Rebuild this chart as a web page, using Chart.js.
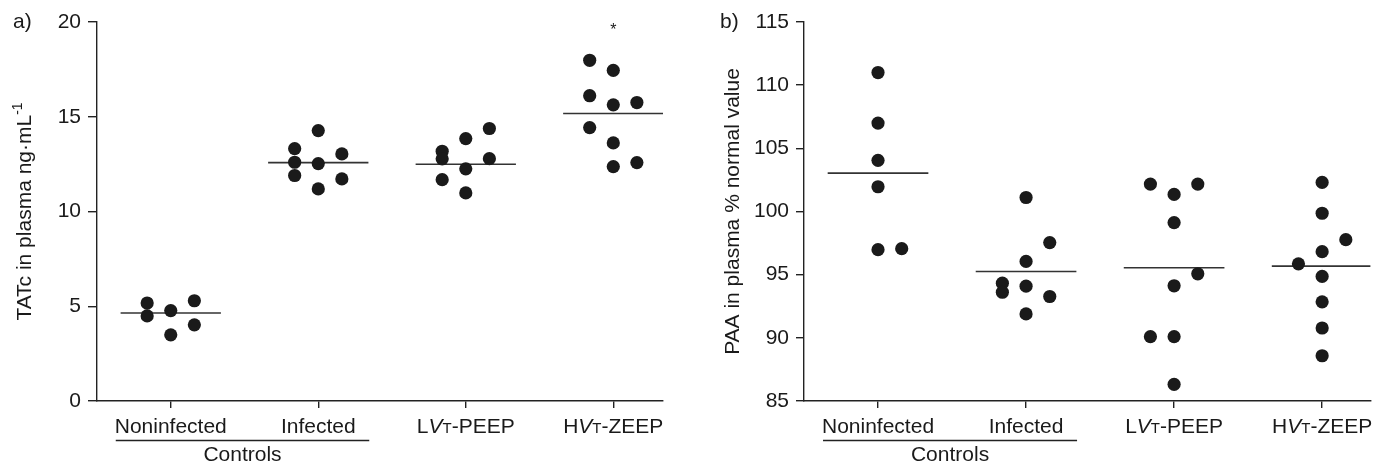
<!DOCTYPE html>
<html><head><meta charset="utf-8">
<script src="https://cdn.jsdelivr.net/npm/chart.js@4.4.1/dist/chart.umd.min.js"></script>
<style>
html,body{margin:0;padding:0;background:#fff;width:1377px;height:466px;overflow:hidden}
#wa{position:absolute;left:0;top:0;width:680px;height:466px}
#wb{position:absolute;left:687px;top:0;width:690px;height:466px}
</style></head><body>
<div id="wa"><canvas id="ca"></canvas></div>
<div id="wb"><canvas id="cb"></canvas></div>
<script>
// ---------- data ----------
const categories = ['Noninfected', 'Infected', 'LVT-PEEP', 'HVT-ZEEP'];
const groupLabel = 'Controls';
const tatcTicks = [0, 5, 10, 15, 20];
const paaTicks = [85, 90, 95, 100, 105, 110, 115];

// dot columns inside each group: -1 left, 0 centre, 1 right
const tatcNoninfected = [5.17, 4.49, 4.77, 3.49, 5.29, 4.02];
const tatcNoninfectedCol = [-1, -1, 0, 0, 1, 1];
const tatcInfected = [13.32, 12.60, 11.90, 14.27, 12.53, 11.19, 13.04, 11.72];
const tatcInfectedCol = [-1, -1, -1, 0, 0, 0, 1, 1];
const tatcLvt = [13.18, 12.78, 11.68, 13.85, 12.25, 10.98, 14.38, 12.79];
const tatcLvtCol = [-1, -1, -1, 0, 0, 0, 1, 1];
const tatcHvt = [17.98, 16.11, 14.43, 17.45, 15.63, 13.62, 12.37, 15.75, 12.58];
const tatcHvtCol = [-1, -1, -1, 0, 0, 0, 0, 1, 1];
const tatcMeans = [4.64, 12.58, 12.49, 15.17];
const tatcSignif = ['', '', '', '*'];
const tatcSignifValue = 19.7;

const paaNoninfected = [111.0, 107.0, 104.05, 101.96, 96.98, 97.06];
const paaNoninfectedCol = [0, 0, 0, 0, 0, 1];
const paaInfected = [94.33, 93.61, 101.11, 96.05, 94.09, 91.89, 97.54, 93.27];
const paaInfectedCol = [-1, -1, 0, 0, 0, 0, 1, 1];
const paaLvt = [102.17, 90.09, 101.35, 99.12, 94.12, 90.09, 86.32, 102.17, 95.07];
const paaLvtCol = [-1, -1, 0, 0, 0, 0, 0, 1, 1];
const paaHvt = [95.86, 102.30, 99.86, 96.82, 94.86, 92.85, 90.78, 88.58, 97.77];
const paaHvtCol = [-1, 0, 0, 0, 0, 0, 0, 0, 1];
const paaMeans = [103.04, 95.25, 95.55, 95.68];

// ---------- styling ----------
const FONT = '"Liberation Sans", Arial, Helvetica, sans-serif';
const FS = 21;
const INK = '#1a1a1a';
const AXIS = '#222';
const COL_STEP = 0.16;
const MEAN_HALF = 0.34;

function dots(values, cols, idx) {
  return values.map((v, k) => ({ x: idx + cols[k] * COL_STEP, y: v }));
}
function meanLine(m, idx) {
  return [{ x: idx - MEAN_HALF, y: m }, { x: idx + MEAN_HALF, y: m }];
}

function splitLabel(lbl) {
  const m = lbl.match(/^([A-Z])VT(-.+)$/);
  if (!m) return [{ t: lbl }];
  return [{ t: m[1] }, { t: 'V', italic: true }, { t: 'T', small: true }, { t: m[2] }];
}
function partFont(p) {
  return (p.italic ? 'italic ' : '') + (p.small ? 15 : FS) + 'px ' + FONT;
}
function drawParts(ctx, parts, cx, cy) {
  let w = 0;
  parts.forEach(p => { ctx.font = partFont(p); p.w = ctx.measureText(p.t).width; w += p.w; });
  let x = cx - w / 2;
  ctx.textAlign = 'left';
  ctx.textBaseline = 'alphabetic';
  parts.forEach(p => {
    ctx.font = partFont(p);
    ctx.fillText(p.t, x, cy + 7.5);
    x += p.w;
  });
}

const panelPlugin = {
  id: 'panel',
  afterDraw(chart, args, o) {
    const ctx = chart.ctx;
    const xs = chart.scales.x, ys = chart.scales.y;
    ctx.save();
    ctx.fillStyle = INK;
    // panel letter
    ctx.font = FS + 'px ' + FONT;
    ctx.textAlign = 'left';
    ctx.textBaseline = 'middle';
    ctx.fillText(o.letter, o.letterX, 22);
    // y title (rotated, with optional superscript)
    ctx.save();
    ctx.translate(o.titleX, (chart.chartArea.top + chart.chartArea.bottom) / 2);
    ctx.rotate(-Math.PI / 2);
    let w = 0;
    o.title.forEach(p => { ctx.font = (p.sup ? 14 : FS) + 'px ' + FONT; p.w = ctx.measureText(p.t).width; w += p.w; });
    let x = -w / 2;
    ctx.textAlign = 'left';
    ctx.textBaseline = 'alphabetic';
    o.title.forEach(p => {
      ctx.font = (p.sup ? 14 : FS) + 'px ' + FONT;
      ctx.fillText(p.t, x, p.sup ? -1 : 7.5);
      x += p.w;
    });
    ctx.restore();
    // category labels
    categories.forEach((c, i) => {
      drawParts(ctx, splitLabel(c), xs.getPixelForValue(i), 425);
    });
    // Controls bracket
    const x0 = xs.getPixelForValue(0) - 55, x1 = xs.getPixelForValue(1) + 51;
    ctx.strokeStyle = AXIS;
    ctx.lineWidth = 1.3;
    ctx.beginPath();
    ctx.moveTo(x0, 440.5); ctx.lineTo(x1, 440.5);
    ctx.stroke();
    ctx.font = FS + 'px ' + FONT;
    ctx.textAlign = 'center';
    ctx.textBaseline = 'middle';
    ctx.fillText(groupLabel, (x0 + x1) / 2, 455);
    // significance markers
    if (o.signif) {
      ctx.font = '16px ' + FONT;
      o.signif.forEach((s, i) => {
        if (s) ctx.fillText(s, xs.getPixelForValue(i), ys.getPixelForValue(o.signifValue) + 3);
      });
    }
    ctx.restore();
  }
};

function buildChart(id, cfg) {
  const datasets = [];
  cfg.groups.forEach((g, i) => {
    datasets.push({
      type: 'scatter', data: dots(g[0], g[1], i),
      pointRadius: 6.6, pointHoverRadius: 6.6, pointBackgroundColor: INK,
      pointBorderWidth: 0, showLine: false
    });
  });
  cfg.means.forEach((m, i) => {
    datasets.push({
      type: 'line', data: meanLine(m, i), borderColor: '#333', borderWidth: 1.6,
      pointRadius: 0, fill: false
    });
  });
  const gridOpts = (len) => ({
    display: true, drawOnChartArea: false, drawTicks: true, tickLength: len,
    color: AXIS, lineWidth: 1.4
  });
  return new Chart(document.getElementById(id), {
    type: 'scatter',
    data: { datasets },
    plugins: [panelPlugin],
    options: {
      responsive: true, maintainAspectRatio: false, animation: false,
      layout: { padding: { top: 22, right: cfg.padRight, bottom: 0, left: 0 } },
      plugins: {
        legend: { display: false }, tooltip: { enabled: false },
        panel: cfg.panel
      },
      scales: {
        x: {
          type: 'linear', min: -0.5, max: cfg.xMax,
          ticks: { display: false },
          grid: gridOpts(7),
          border: { display: true, color: AXIS, width: 1.4 },
          afterBuildTicks: s => { s.ticks = categories.map((c, i) => ({ value: i })); },
          afterFit: s => { s.height = 65; }
        },
        y: {
          type: 'linear', min: cfg.yTicks[0], max: cfg.yTicks[cfg.yTicks.length - 1],
          ticks: { font: { size: FS, family: FONT }, color: INK, padding: 7 },
          grid: gridOpts(cfg.yTickLen),
          border: { display: true, color: AXIS, width: 1.4 },
          afterBuildTicks: s => { s.ticks = cfg.yTicks.map(v => ({ value: v })); },
          afterFit: s => { s.width = cfg.yWidth; }
        }
      }
    }
  });
}

buildChart('ca', {
  groups: [[tatcNoninfected, tatcNoninfectedCol], [tatcInfected, tatcInfectedCol],
           [tatcLvt, tatcLvtCol], [tatcHvt, tatcHvtCol]],
  means: tatcMeans, yTicks: tatcTicks, yWidth: 97, yTickLen: 9, padRight: 17, xMax: 3.337,
  panel: { letter: 'a)', letterX: 13, titleX: 23,
           title: [{ t: 'TATc in plasma ng·mL' }, { t: '-1', sup: true }],
           signif: tatcSignif, signifValue: tatcSignifValue }
});
buildChart('cb', {
  groups: [[paaNoninfected, paaNoninfectedCol], [paaInfected, paaInfectedCol],
           [paaLvt, paaLvtCol], [paaHvt, paaHvtCol]],
  means: paaMeans, yTicks: paaTicks, yWidth: 117, yTickLen: 8, padRight: 6, xMax: 3.326,
  panel: { letter: 'b)', letterX: 33, titleX: 44,
           title: [{ t: 'PAA in plasma % normal value' }] }
});
</script>
</body></html>
